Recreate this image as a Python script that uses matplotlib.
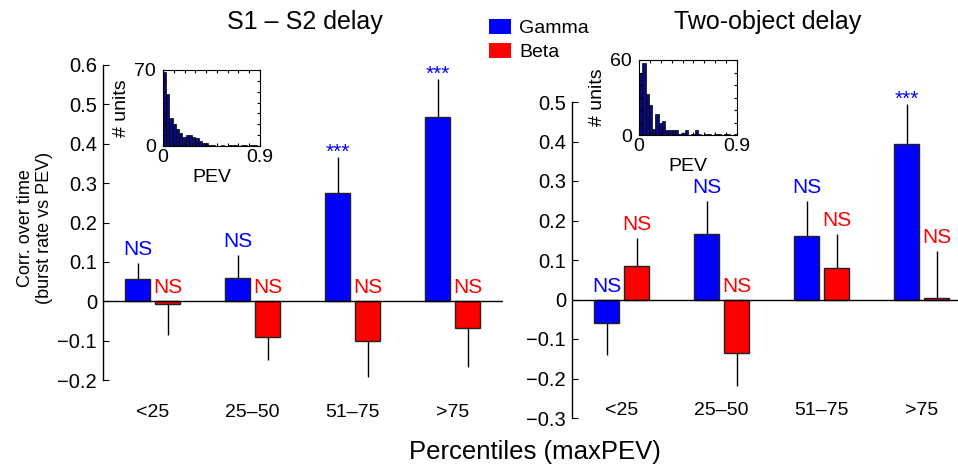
import numpy as np
import matplotlib
matplotlib.use('Agg')
import matplotlib.pyplot as plt
from matplotlib.patches import Patch

plt.rcParams['font.family'] = ['Liberation Sans', 'DejaVu Sans']

# Datos
categorias = ['<25', '25\u201350', '51\u201375', '>75']
grupos = ['Gamma', 'Beta']

# Panel izquierdo: S1 - S2 delay
izq_gamma = [0.057, 0.059, 0.275, 0.468]
izq_gamma_err = [0.040, 0.058, 0.092, 0.097]
izq_beta = [-0.007, -0.090, -0.100, -0.069]
izq_beta_err = [0.079, 0.058, 0.092, 0.099]
izq_gamma_sig = ['NS', 'NS', '***', '***']
izq_beta_sig = ['NS', 'NS', 'NS', 'NS']

# Panel derecho: Two-object delay
der_gamma = [-0.059, 0.165, 0.161, 0.393]
der_gamma_err = [0.082, 0.085, 0.089, 0.103]
der_beta = [0.084, -0.136, 0.079, 0.005]
der_beta_err = [0.071, 0.084, 0.086, 0.118]
der_gamma_sig = ['NS', 'NS', 'NS', '***']
der_beta_sig = ['NS', 'NS', 'NS', 'NS']

# Histogramas (inset): conteos por bin de PEV, 0 a 0.9
bins_pev = np.linspace(0, 0.9, 31)
hist_izq = [68, 48, 26, 20, 16, 12, 8, 10, 10, 8, 7, 5, 3, 3, 1,
            1, 0, 0, 1, 0, 1, 1, 1, 0, 1, 1, 0, 1, 1, 0]
hist_der = [50, 58, 33, 24, 5, 17, 10, 11, 4, 4, 4, 4, 1, 2, 4,
            0, 1, 4, 1, 0, 1, 1, 0, 1, 1, 0, 1, 1, 0, 1]

azul = '#0000ff'
rojo = '#ff0000'
W, H = 958, 468


def px(x0, y0, x1, y1):
    # caja en pixeles -> coordenadas de figura
    return [x0 / W, 1 - y1 / H, (x1 - x0) / W, (y1 - y0) / H]


fig = plt.figure(figsize=(W / 100, H / 100), dpi=100)


def panel(rect, gamma, gerr, beta, berr, gsig, bsig, ylim, yticks):
    ax = fig.add_axes(rect)
    x = np.arange(1, len(categorias) + 1)
    for vals, errs, sig, off, col in [(gamma, gerr, gsig, -0.15, azul),
                                      (beta, berr, bsig, 0.15, rojo)]:
        vals = np.array(vals)
        errs = np.array(errs)
        ax.bar(x + off, vals, width=0.25, color=col, edgecolor='#222222',
               linewidth=1, zorder=2)
        lower = np.where(vals < 0, errs, 0)
        upper = np.where(vals >= 0, errs, 0)
        ax.errorbar(x + off, vals, yerr=[lower, upper], fmt='none',
                    ecolor='black', elinewidth=1, capsize=0, zorder=1)
        for xi, v, e, s in zip(x + off, vals, errs, sig):
            base = v + e if v > 0 else 0
            if s == '***':
                ax.text(xi, base - 0.002, s, color=col, ha='center',
                        va='baseline', fontsize=15)
            else:
                ax.text(xi, base + 0.034, s, color=col, ha='center',
                        va='center', fontsize=15)
    ax.axhline(0, color='black', linewidth=1, zorder=3)
    for xi, c in zip(x, categorias):
        ax.text(xi, -0.282, c, ha='center', va='center', fontsize=14,
                clip_on=False)
    ax.set_xlim(0.5, 4.5)
    ax.set_ylim(*ylim)
    ax.set_yticks(yticks)
    ax.set_yticklabels([('\u2212%g' % -t) if t < 0 else ('%g' % t) for t in yticks])
    ax.set_xticks([])
    for s in ['top', 'right', 'bottom']:
        ax.spines[s].set_visible(False)
    ax.spines['left'].set_linewidth(1)
    ax.tick_params(axis='y', direction='in', length=4, labelsize=14.5, pad=4)
    return ax


ax1 = panel(px(102.5, 65, 502.5, 380), izq_gamma, izq_gamma_err, izq_beta,
            izq_beta_err, izq_gamma_sig, izq_beta_sig, (-0.2, 0.6),
            np.round(np.arange(-0.2, 0.61, 0.1), 1))
ax2 = panel(px(571.5, 102, 971.5, 418), der_gamma, der_gamma_err, der_beta,
            der_beta_err, der_gamma_sig, der_beta_sig, (-0.3, 0.5),
            np.round(np.arange(-0.3, 0.51, 0.1), 1))


def inset(rect, conteos, ymax):
    ax = fig.add_axes(rect)
    ax.bar(bins_pev[:-1], conteos, width=np.diff(bins_pev), align='edge',
           color='#0a0a7a', edgecolor='black', linewidth=0.5)
    ax.set_xlim(0, 0.9)
    ax.set_ylim(0, ymax)
    ax.set_xticks(np.round(np.arange(0, 0.91, 0.1), 1))
    ax.set_xticklabels(['0'] + [''] * 8 + ['0.9'])
    yt = np.arange(0, ymax + 1, 10)
    ax.set_yticks(yt)
    ax.set_yticklabels(['0'] + [''] * (len(yt) - 2) + [str(ymax)])
    ax.tick_params(direction='in', length=2, top=True, right=True,
                   labelsize=14)
    ax.tick_params(axis='x', pad=2)
    ax.tick_params(axis='y', pad=5)
    for s in ax.spines.values():
        s.set_linewidth(0.8)
    ax.set_xlabel('PEV', fontsize=14, labelpad=2)
    ax.set_ylabel('# units', fontsize=14, labelpad=3)
    return ax


inset(px(163, 70, 260, 146), hist_izq, 70)
inset(px(639, 60, 737, 135), hist_der, 60)

fig.text(305 / W, 1 - 22 / H, 'S1 \u2013 S2 delay', ha='center', va='center',
         fontsize=18)
fig.text(768 / W, 1 - 22 / H, 'Two-object delay', ha='center', va='center',
         fontsize=18)
fig.text(35 / W, 1 - 228 / H, 'Corr. over time\n(burst rate vs PEV)',
         rotation=90, ha='center', va='center', fontsize=13, linespacing=1.15)
fig.text(535 / W, 1 - 452 / H, 'Percentiles (maxPEV)', ha='center',
         va='center', fontsize=18.5)

handles = [Patch(facecolor=azul, edgecolor='none'),
           Patch(facecolor=rojo, edgecolor='none')]
fig.legend(handles, grupos, loc='upper left', bbox_to_anchor=(489 / W, 1 - 19 / H),
           frameon=False, fontsize=14, handlelength=1.15, handleheight=0.8,
           handletextpad=0.4, labelspacing=0.3, borderaxespad=0, borderpad=0)

fig.savefig('out.png', dpi=100)
